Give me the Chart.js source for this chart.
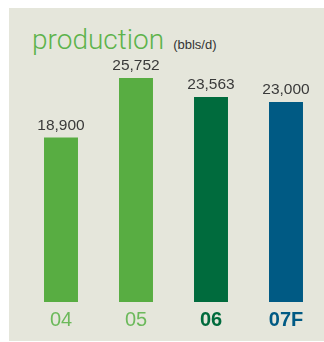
<!DOCTYPE html>
<html>
<head>
<meta charset="utf-8">
<script src="https://cdn.jsdelivr.net/npm/chart.js@4"></script>
<style>
  html, body { margin: 0; padding: 0; background: #fff; }
  #wrap { position: relative; width: 324px; height: 342px; overflow: hidden; }
  #panel { position: absolute; left: 9px; top: 8px; width: 315px; height: 333px; background: #e5e6db; }
  #title { position: absolute; left: 32px; top: 26px; font-family: Roboto, "Liberation Sans", sans-serif; white-space: nowrap; line-height: 1; }
  #title .main { font-size: 28px; font-weight: 300; color: #5db34b; }
  #title .unit { font-size: 13px; color: #333; margin-left: 9px; font-family: "Liberation Sans", sans-serif; }
  canvas { position: absolute; left: 0; top: 0; }
</style>
</head>
<body>
<div id="wrap">
  <div id="panel"></div>
  <div id="title"><span class="main">production</span><span class="unit">(bbls/d)</span></div>
  <canvas id="chart" width="324" height="342"></canvas>
</div>
<script>
const years = ['04', '05', '06', '07F'];
const production = [18900, 25752, 23563, 23000];
const barColors = ['#58ad42', '#58ad42', '#006b3d', '#005a84'];
const labelColors = ['#6cb95b', '#6cb95b', '#006b3d', '#005a84'];
const labelWeights = ['normal', 'normal', 'bold', 'bold'];

const valueLabels = {
    id: 'valueLabels',
    afterDatasetsDraw(chart) {
        const ctx = chart.ctx;
        const meta = chart.getDatasetMeta(0);
        ctx.save();
        ctx.font = '15.5px "Liberation Sans", Arial, sans-serif';
        ctx.fillStyle = '#3a3a3a';
        ctx.textAlign = 'center';
        ctx.textBaseline = 'alphabetic';
        meta.data.forEach((bar, i) => {
            ctx.fillText(production[i].toLocaleString('en-US'), bar.x, bar.y - 8);
        });
        ctx.restore();
    },
};

new Chart(document.getElementById('chart'), {
    type: 'bar',
    data: {
        labels: years,
        datasets: [
            {
                data: production,
                backgroundColor: barColors,
                categoryPercentage: 1,
                barPercentage: 0.453,
            },
        ],
    },
    options: {
        responsive: false,
        animation: false,
        layout: { padding: { left: 23.5, right: 0.5, top: 41, bottom: 4 } },
        plugins: { legend: { display: false }, tooltip: { enabled: false } },
        scales: {
            x: {
                grid: { display: false, drawTicks: false },
                border: { display: false },
                ticks: {
                    padding: 6,
                    color: (c) => labelColors[c.index],
                    font: (c) => ({ family: '"Liberation Sans", Arial, sans-serif', size: 20, weight: labelWeights[c.index] }),
                },
            },
            y: {
                display: false,
                min: 0,
                max: 30000,
            },
        },
    },
    plugins: [valueLabels],
});
</script>
</body>
</html>
